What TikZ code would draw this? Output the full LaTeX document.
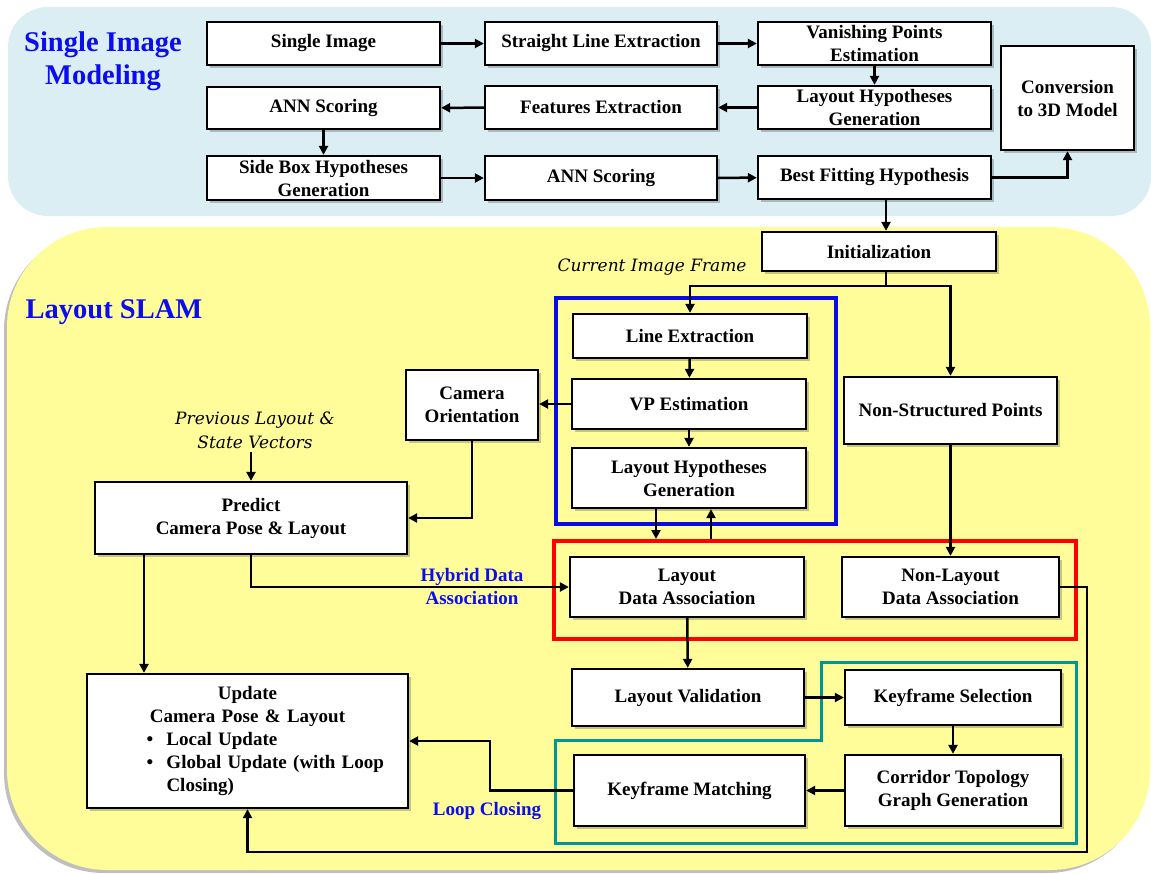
\documentclass[tikz,border=0pt]{standalone}
\usepackage{fontspec}
\setmainfont{Liberation Serif}
\newfontfamily\cambria{DejaVu Serif}
\usetikzlibrary{arrows.meta,shadows,calc}
\definecolor{panelblue}{RGB}{218,238,243}
\definecolor{panelyellow}{RGB}{255,253,153}
\definecolor{titleblue}{RGB}{12,12,240}
\definecolor{grpblue}{RGB}{10,10,230}
\definecolor{grpteal}{RGB}{0,150,150}
\begin{document}
\begin{tikzpicture}[x=1pt,y=-1pt,
  box/.style={draw=black, line width=2.3pt, fill=white, align=center, inner sep=0pt,
    font=\bfseries\fontsize{19}{23}\selectfont,
    drop shadow={shadow xshift=2.5pt,shadow yshift=-2.5pt,fill=black,opacity=0.22}},
  arr/.style={line width=2.5pt, -{Triangle[length=9pt,width=9pt]}},
  lnk/.style={line width=2.5pt},
  grp/.style={line width=#1, inner sep=0pt},
  title/.style={text=titleblue, font=\bfseries\fontsize{28.5}{33}\selectfont, align=center},
  note/.style={text=titleblue, font=\bfseries\fontsize{19}{23}\selectfont, align=center},
  itnote/.style={font=\cambria\itshape\fontsize{17}{24}\selectfont, align=center}
]
\useasboundingbox (0,0) rectangle (1151,873);
% panels
\fill[panelblue, rounded corners=40pt] (8,7) rectangle (1151,216);
\fill[panelyellow, rounded corners=100pt, drop shadow={shadow xshift=-3pt,shadow yshift=-3pt,fill=black,opacity=0.25}] (7,227) rectangle (1150,870);

% titles
\node[title] (t1) at (103,61) {Single Image\\Modeling};
\node[title] (t2) at (114,312) {Layout SLAM};

% top section
\node[box, minimum width=233, minimum height=43] (si) at (323.5,43.5) {Single Image};
\node[box, minimum width=232, minimum height=43] (sle) at (601,43.5) {Straight Line Extraction};
\node[box, minimum width=233, minimum height=43] (vpe) at (874.5,43.5) {Vanishing Points\\Estimation};
\node[box, minimum width=233, minimum height=42] (ann1) at (323.5,108) {ANN Scoring};
\node[box, minimum width=232, minimum height=43] (fe) at (601,107.5) {Features Extraction};
\node[box, minimum width=233, minimum height=43] (lhg) at (874.5,107.5) {Layout Hypotheses\\Generation};
\node[box, minimum width=233, minimum height=44] (sbh) at (323.5,178) {Side Box Hypotheses\\Generation};
\node[box, minimum width=232, minimum height=44] (ann2) at (601,178) {ANN Scoring};
\node[box, minimum width=233, minimum height=43] (bfh) at (874.5,177.5) {Best Fitting Hypothesis};
\node[box, minimum width=133, minimum height=104] (conv) at (1067.5,98) {Conversion\\to 3D Model};

\draw[arr] (si) -- (sle);
\draw[arr] (sle) -- (vpe);
\draw[arr] (vpe) -- (lhg);
\draw[arr] (lhg) -- (fe);
\draw[arr] (fe) -- (ann1);
\draw[arr] (ann1) -- (sbh);
\draw[arr] (sbh) -- (ann2);
\draw[arr] (ann2) -- (bfh);
\draw[arr] (bfh.east) -| (conv.south);

% SLAM section
\node[box, minimum width=234, minimum height=39] (init) at (879,251.5) {Initialization};
\coordinate (bx) at (886,0);
\draw[arr] (bfh.south -| bx) -- (init.north -| bx);

\node[itnote] (cif) at (652,267) {Current Image Frame};

\node[draw=grpblue, grp=3.5pt, minimum width=280, minimum height=226] (bluegrp) at (696,411) {};
\node[draw=red, grp=4pt, minimum width=522, minimum height=98] (redgrp) at (815,590) {};
\draw[draw=grpteal, line width=3pt] (821,662) -- (1076,662) -- (1076,843) -- (555,843) -- (555,740) -- (821,740) -- cycle;

\node[box, minimum width=234, minimum height=44] (lex) at (690,336) {Line Extraction};
\node[box, minimum width=234, minimum height=50] (vpest) at (689,404) {VP Estimation};
\node[box, minimum width=234, minimum height=60] (lhg2) at (689,478) {Layout Hypotheses\\Generation};
\node[box, minimum width=213, minimum height=67] (nsp) at (950.5,410.5) {Non-Structured Points};
\node[box, minimum width=132, minimum height=70] (cam) at (472,405) {Camera\\Orientation};
\node[box, minimum width=312, minimum height=72] (pred) at (251,518) {Predict\\Camera Pose \& Layout};
\node[box, minimum width=234, minimum height=60] (lda) at (687,587) {Layout\\Data Association};
\node[box, minimum width=217, minimum height=60] (nlda) at (950.5,587) {Non-Layout\\Data Association};
\node[box, minimum width=232, minimum height=57] (lv) at (688,697.5) {Layout Validation};
\node[box, minimum width=216, minimum height=55] (ks) at (953,697.5) {Keyframe Selection};
\node[box, minimum width=216, minimum height=71] (ctg) at (953,790.5) {Corridor Topology\\Graph Generation};
\node[box, minimum width=231, minimum height=71] (km) at (689.5,790.5) {Keyframe Matching};
\node[box, minimum width=321, minimum height=134, text width=300pt, align=left] (upd) at (247.5,741) {%
\makebox[\linewidth]{Update}\\
\makebox[\linewidth]{Camera Pose \& Layout}\\
\hspace*{49pt}\makebox[20pt][l]{\textbullet}Local Update\\
\hspace*{49pt}\makebox[20pt][l]{\textbullet}Global Update (with Loop\\
\hspace*{69pt}Closing)};

\node[itnote] (prev) at (255,430) {Previous Layout \&\\State Vectors};
\node[note] (hda) at (472,586) {Hybrid Data\\Association};
\node[note] (lcl) at (487,811) {Loop Closing};

% connectors
\coordinate (br) at (886,286);
\draw[lnk] (init.south -| br) -- (br);
\draw[arr] (br) -| (lex.north);
\draw[arr] (br) -| (nsp.north);
\draw[arr] (lex) -- (vpest);
\draw[arr] (vpest) -- (lhg2);
\draw[arr] (vpest.west) -- (cam.east |- vpest.west);
\draw[arr] (cam.south) |- (pred.east);
\draw[arr] (prev.south -| pred.north) -- (pred.north);
\draw[arr] ([xshift=-33pt]lhg2.south) -- ([xshift=-33pt]lhg2.south |- redgrp.north);
\draw[arr] ([xshift=22pt]lhg2.south |- redgrp.north) -- ([xshift=22pt]lhg2.south);
\draw[arr] (nsp) -- (nlda);
\draw[arr] (pred.south) |- (lda.west);
\draw[arr] ([xshift=-107pt]pred.south) -- ([xshift=-107pt]pred.south |- upd.north);
\draw[arr] (lda) -- (lv);
\draw[arr] (lv) -- (ks);
\draw[arr] (ks) -- (ctg);
\draw[arr] (ctg) -- (km);
\coordinate (kmc) at (490,790.5);
\draw[arr] (km.west) -- (kmc) |- (upd.east);
\coordinate (r1) at (1087,852);
\draw[arr] (nlda.east) -| (r1) -| (upd.south);
\end{tikzpicture}
\end{document}
